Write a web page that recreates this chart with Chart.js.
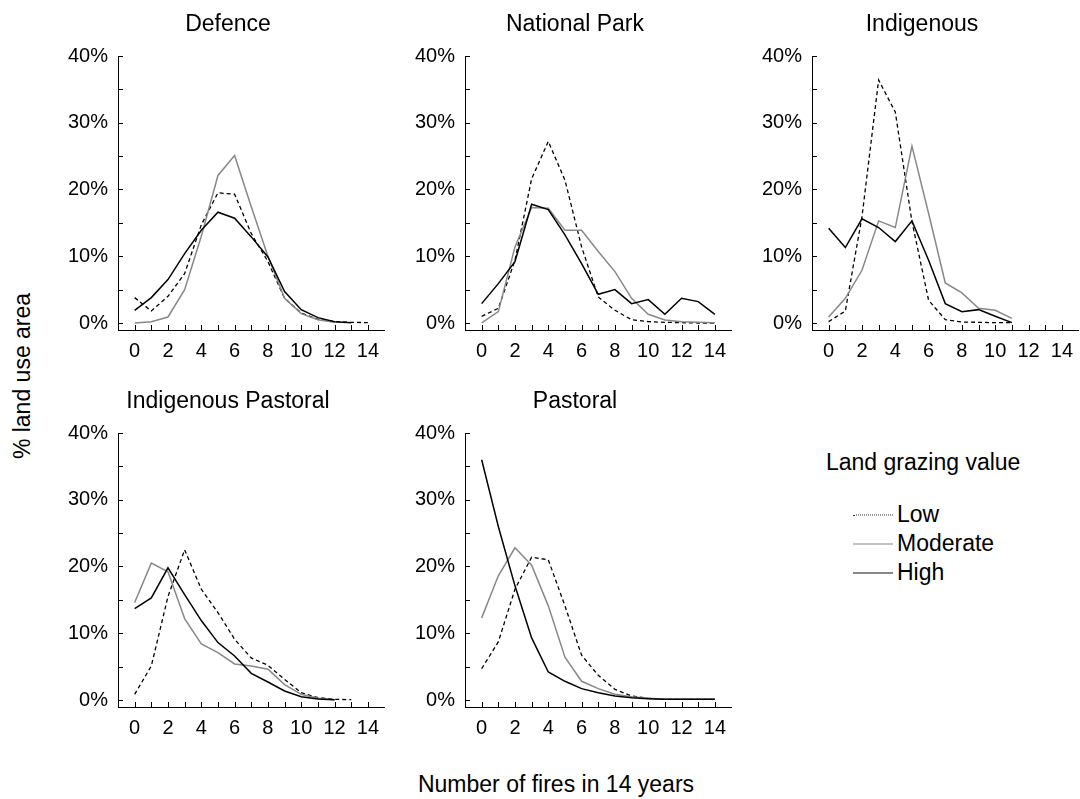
<!DOCTYPE html>
<html>
<head>
<meta charset="utf-8">
<script src="https://cdn.jsdelivr.net/npm/chart.js@4.4.0/dist/chart.umd.min.js"></script>
<style>
  body { margin: 0; width: 1080px; height: 799px; overflow: hidden; background: #fff;
         font-family: "Liberation Sans", Arial, sans-serif; position: relative; }
  canvas { position: absolute; }
  .txt { position: absolute; font-size: 23px; color: #000; white-space: nowrap; }
  #ytitle { left: 22px; top: 376px; transform: translate(-50%, -50%) rotate(-90deg); }
  #xtitle { left: 556px; top: 784px; transform: translate(-50%, -50%); }
  #legtitle { left: 826px; top: 462px; transform: translateY(-50%); }
  .item { position: absolute; left: 853px; transform: translateY(-50%); font-size: 23px; }
  .item span.ln { display: inline-block; width: 40px; vertical-align: middle; margin-right: 4px; }
</style>
</head>
<body>
<canvas id="p0" width="320" height="370" style="left:68px;top:0px"></canvas>
<canvas id="p1" width="320" height="370" style="left:415px;top:0px"></canvas>
<canvas id="p2" width="320" height="370" style="left:762px;top:0px"></canvas>
<canvas id="p3" width="320" height="370" style="left:68px;top:377px"></canvas>
<canvas id="p4" width="320" height="370" style="left:415px;top:377px"></canvas>

<div class="txt" id="ytitle">% land use area</div>
<div class="txt" id="xtitle">Number of fires in 14 years</div>
<div class="txt" id="legtitle">Land grazing value</div>
<div class="item" style="top:514px"><span class="ln" style="border-top:1.5px dotted #333"></span>Low</div>
<div class="item" style="top:543px"><span class="ln" style="border-top:1.5px solid #888"></span>Moderate</div>
<div class="item" style="top:572px"><span class="ln" style="border-top:1.5px solid #111"></span>High</div>

<script>
// number of fires (x) and % land use area (y) ticks
const xTicks = [0, 1, 2, 3, 4, 5, 6, 7, 8, 9, 10, 11, 12, 13, 14];
const yTicks = [0, 5, 10, 15, 20, 25, 30, 35, 40];

const titles = ['Defence', 'National Park', 'Indigenous', 'Indigenous Pastoral', 'Pastoral'];
const grazing = ['Low', 'Moderate', 'High'];

// % of land use area for 0,1,2,... fires
const defenceLow  = [3.8, 1.8, 4.0, 7.4, 14.7, 19.5, 19.3, 13.4, 9.2, 3.7, 1.5, 0.55, 0.2, 0.1, 0.05];
const defenceMod  = [0.0, 0.2, 0.9, 5.0, 13.0, 22.1, 25.1, 17.4, 10.0, 3.7, 1.4, 0.5, 0.1];
const defenceHigh = [1.9, 3.8, 6.5, 10.4, 13.9, 16.6, 15.7, 12.9, 9.9, 4.7, 2.0, 0.8, 0.2, 0.05];

const parkLow  = [1.0, 2.2, 9.4, 21.6, 27.2, 21.4, 11.4, 3.9, 1.9, 0.5, 0.2, 0.1, 0.05, 0.0, 0.0];
const parkMod  = [0.0, 1.7, 11.4, 17.3, 17.2, 13.9, 13.9, 10.7, 7.7, 3.7, 1.3, 0.45, 0.2, 0.1, 0.05];
const parkHigh = [2.9, 5.9, 9.2, 17.8, 17.0, 13.2, 8.9, 4.3, 5.0, 2.9, 3.5, 1.3, 3.7, 3.2, 1.3];

const indigLow  = [0.2, 1.8, 15.9, 36.4, 31.6, 15.2, 3.4, 0.5, 0.15, 0.1, 0.05, 0.05];
const indigMod  = [0.9, 3.7, 7.9, 15.3, 14.3, 26.5, 16.4, 6.0, 4.5, 2.2, 1.9, 0.7];
const indigHigh = [14.2, 11.3, 15.6, 14.3, 12.2, 15.3, 9.4, 2.9, 1.7, 2.0, 1.0, 0.05];

const indPastLow  = [0.85, 5.1, 15.5, 22.5, 16.6, 13.1, 9.1, 6.3, 5.2, 3.1, 1.1, 0.35, 0.1, 0.05];
const indPastMod  = [14.6, 20.5, 19.2, 12.2, 8.4, 7.1, 5.4, 5.1, 4.6, 2.3, 0.85, 0.25, 0.05];
const indPastHigh = [13.7, 15.3, 19.8, 15.8, 11.9, 8.6, 6.6, 4.0, 2.7, 1.35, 0.5, 0.15, 0.05];

const pastLow  = [4.7, 8.7, 16.6, 21.4, 21.0, 14.1, 6.7, 3.7, 1.6, 0.6, 0.25, 0.1, 0.1, 0.1, 0.1];
const pastMod  = [12.3, 18.6, 22.8, 20.2, 14.1, 6.4, 2.8, 1.7, 0.85, 0.5, 0.25, 0.1, 0.1, 0.1, 0.1];
const pastHigh = [36.0, 26.0, 17.1, 9.3, 4.2, 2.8, 1.7, 1.1, 0.6, 0.35, 0.2, 0.1, 0.1, 0.1, 0.1];

const panels = [
  [defenceLow, defenceMod, defenceHigh],
  [parkLow, parkMod, parkHigh],
  [indigLow, indigMod, indigHigh],
  [indPastLow, indPastMod, indPastHigh],
  [pastLow, pastMod, pastHigh]
];

const styles = [
  { borderColor: '#000', borderWidth: 1.3, borderDash: [4, 3] },
  { borderColor: '#888', borderWidth: 1.5 },
  { borderColor: '#000', borderWidth: 1.5 }
];

Chart.defaults.font.family = '"Liberation Sans", Arial, sans-serif';
Chart.defaults.color = '#000';

// tick marks pointing into the plot
const inwardTicks = {
  id: 'inwardTicks',
  afterDraw(chart) {
    const { ctx, scales: { x, y } } = chart;
    ctx.save();
    ctx.strokeStyle = '#000';
    ctx.lineWidth = 1;
    ctx.beginPath();
    y.ticks.forEach(t => {
      const py = Math.round(y.getPixelForValue(t.value)) + 0.5;
      ctx.moveTo(y.right, py);
      ctx.lineTo(y.right + 5, py);
    });
    x.ticks.forEach(t => {
      const px = Math.round(x.getPixelForValue(t.value)) + 0.5;
      ctx.moveTo(px, x.top);
      ctx.lineTo(px, x.top - 5);
    });
    ctx.stroke();
    ctx.restore();
  }
};

panels.forEach((series, i) => {
  new Chart(document.getElementById('p' + i), {
    type: 'line',
    data: {
      datasets: series.map((vals, k) => ({
        label: grazing[k],
        data: vals.map((v, j) => ({ x: xTicks[j], y: v })),
        pointRadius: 0,
        tension: 0,
        fill: false,
        ...styles[k]
      })).reverse()
    },
    options: {
      responsive: false,
      animation: false,
      layout: { padding: 0 },
      plugins: {
        legend: { display: false },
        tooltip: { enabled: false },
        title: {
          display: true,
          text: titles[i],
          font: { size: 23, weight: 'normal' },
          color: '#000',
          padding: { top: 11, bottom: 17.4 }
        }
      },
      scales: {
        x: {
          type: 'linear',
          min: -1,
          max: 15,
          afterBuildTicks: s => { s.ticks = xTicks.map(v => ({ value: v })); },
          afterFit: s => { s.height = 40; },
          ticks: {
            autoSkip: false,
            maxRotation: 0,
            padding: 9,
            font: { size: 20 },
            callback: v => (v % 2 === 0 ? v : '')
          },
          grid: { drawOnChartArea: false, drawTicks: false },
          border: { color: '#000', width: 1 }
        },
        y: {
          min: -1.05,
          max: 40,
          afterBuildTicks: s => { s.ticks = yTicks.map(v => ({ value: v })); },
          afterFit: s => { s.width = 50; },
          ticks: {
            autoSkip: false,
            padding: 10,
            font: { size: 20 },
            callback: v => (v % 10 === 0 ? v + '%' : '')
          },
          grid: { drawOnChartArea: false, drawTicks: false },
          border: { color: '#000', width: 1 }
        }
      }
    },
    plugins: [inwardTicks]
  });
});
</script>
</body>
</html>
